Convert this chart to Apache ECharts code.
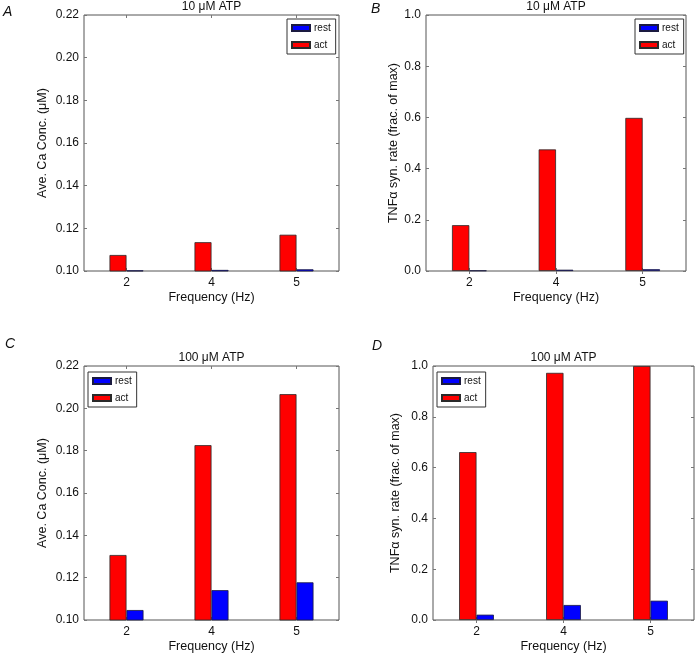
<!DOCTYPE html>
<html>
<head>
<meta charset="utf-8">
<script src="https://cdn.jsdelivr.net/npm/echarts@6/dist/echarts.min.js"></script>
<style>
html,body{margin:0;padding:0;background:#fff;}
#c{width:697px;height:654px;}
</style>
</head>
<body>
<div id="c"></div>
<script>
// ---- data ----
var categories = ['2', '4', '5'];
var caRest10 = [0.1003, 0.1005, 0.1008];
var caAct10 = [0.1075, 0.1135, 0.1170];
var tnfRest10 = [0.002, 0.005, 0.007];
var tnfAct10 = [0.179, 0.475, 0.598];
var caRest100 = [0.1047, 0.1141, 0.1178];
var caAct100 = [0.1307, 0.1826, 0.2067];
var tnfRest100 = [0.021, 0.059, 0.076];
var tnfAct100 = [0.661, 0.973, 1.000];
var panelLetters = ['A', 'B', 'C', 'D'];
var panelTitles = ['10 \u03bcM ATP', '10 \u03bcM ATP', '100 \u03bcM ATP', '100 \u03bcM ATP'];
var caName = 'Ave. Ca Conc. (\u03bcM)';
var tnfName = 'TNF\u03b1 syn. rate (frac. of max)';
var xName = 'Frequency (Hz)';

var FONT = '"Liberation Sans", Arial, Helvetica, sans-serif';
var grids = [
  {left: 84, top: 15, width: 255, height: 256},
  {left: 426, top: 15, width: 260, height: 256},
  {left: 84, top: 366, width: 255, height: 255},
  {left: 433, top: 366, width: 261, height: 255}
];
var yCfg = [
  {min: 0.10, max: 0.22, interval: 0.02, dec: 2, name: caName, gap: 35},
  {min: 0, max: 1.0, interval: 0.2, dec: 1, name: tnfName, gap: 26},
  {min: 0.10, max: 0.22, interval: 0.02, dec: 2, name: caName, gap: 35},
  {min: 0, max: 1.0, interval: 0.2, dec: 1, name: tnfName, gap: 31}
];
var actData = [caAct10, tnfAct10, caAct100, tnfAct100];
var restData = [caRest10, tnfRest10, caRest100, tnfRest100];
var legendPos = [
  {left: 287, top: 19},
  {left: 635, top: 19},
  {left: 88, top: 372},
  {left: 437, top: 372}
];

var xAxes = [], yAxes = [], series = [], titles = [], legends = [];
grids.forEach(function (g, k) {
  var cx = g.left + g.width / 2;
  xAxes.push({
    type: 'category', gridIndex: k, data: categories, position: 'bottom',
    axisLine: {show: false},
    axisTick: {show: true, inside: true, length: 3, alignWithLabel: true, lineStyle: {color: '#777'}},
    axisLabel: {color: '#111', fontSize: 12, fontFamily: FONT, margin: 6},
    name: xName, nameLocation: 'middle', nameGap: 20,
    nameTextStyle: {color: '#111', fontSize: 12.5, fontFamily: FONT}
  });
  xAxes.push({
    type: 'category', gridIndex: k, data: categories, position: 'top',
    axisLine: {show: false},
    axisTick: {show: true, inside: true, length: 3, alignWithLabel: true, lineStyle: {color: '#777'}},
    axisLabel: {show: false}
  });
  var yc = yCfg[k];
  yAxes.push({
    type: 'value', gridIndex: k, position: 'left', min: yc.min, max: yc.max, interval: yc.interval,
    splitLine: {show: false},
    axisLine: {show: false},
    axisTick: {show: true, inside: true, length: 3, lineStyle: {color: '#777'}},
    axisLabel: {color: '#111', fontSize: 12, fontFamily: FONT, margin: 5,
      formatter: (function (d) { return function (v) { return v.toFixed(d); }; })(yc.dec)},
    name: yc.name, nameLocation: 'middle', nameGap: yc.gap, nameRotate: 90,
    nameTextStyle: {color: '#111', fontSize: 12.5, fontFamily: FONT}
  });
  yAxes.push({
    type: 'value', gridIndex: k, position: 'right', min: yc.min, max: yc.max, interval: yc.interval,
    splitLine: {show: false},
    axisLine: {show: false},
    axisTick: {show: true, inside: true, length: 3, lineStyle: {color: '#777'}},
    axisLabel: {show: false}
  });
  series.push({
    name: 'act', type: 'bar', xAxisIndex: 2 * k, yAxisIndex: 2 * k,
    data: actData[k], barWidth: '20%', barGap: '0%',
    itemStyle: {color: '#ff0000', borderColor: '#2a2a2a', borderWidth: 0.8},
    emphasis: {disabled: true}, animation: false
  });
  series.push({
    name: 'rest', type: 'bar', xAxisIndex: 2 * k, yAxisIndex: 2 * k,
    data: restData[k], barWidth: '20%', barGap: '0%',
    itemStyle: {color: '#0000ff', borderColor: '#1a1a40', borderWidth: 0.8},
    emphasis: {disabled: true}, animation: false
  });
  titles.push({
    text: panelTitles[k], left: cx, top: g.top - 14, textAlign: 'center', padding: 0,
    textStyle: {fontSize: 12, fontWeight: 'normal', color: '#111', fontFamily: FONT}
  });
  legends.push({
    data: ['rest', 'act'], orient: 'vertical',
    left: legendPos[k].left, top: legendPos[k].top,
    itemWidth: 18, itemHeight: 6, itemGap: 7,
    padding: [4, 5, 4, 4],
    borderColor: '#333', borderWidth: 1, backgroundColor: '#fff',
    selectedMode: false,
    textStyle: {fontSize: 10, color: '#111', fontFamily: FONT, padding: [0, 0, 0, -1]},
    icon: 'rect'
  });
});
var letterPos = [[3, 5], [371, 2], [5, 337], [372, 339]];
letterPos.forEach(function (p, i) {
  titles.push({
    text: panelLetters[i], left: p[0], top: p[1], padding: 0,
    textStyle: {fontSize: 14, fontStyle: 'italic', fontWeight: 'normal', color: '#111', fontFamily: FONT}
  });
});

var chart = echarts.init(document.getElementById('c'));
chart.setOption({
  animation: false,
  backgroundColor: '#fff',
  title: titles,
  legend: legends,
  grid: grids.map(function (g) {
    return {left: g.left, top: g.top, width: g.width, height: g.height, show: true,
      borderColor: '#555', borderWidth: 1, backgroundColor: 'transparent'};
  }),
  xAxis: xAxes,
  yAxis: yAxes,
  series: series
});
</script>
</body>
</html>
